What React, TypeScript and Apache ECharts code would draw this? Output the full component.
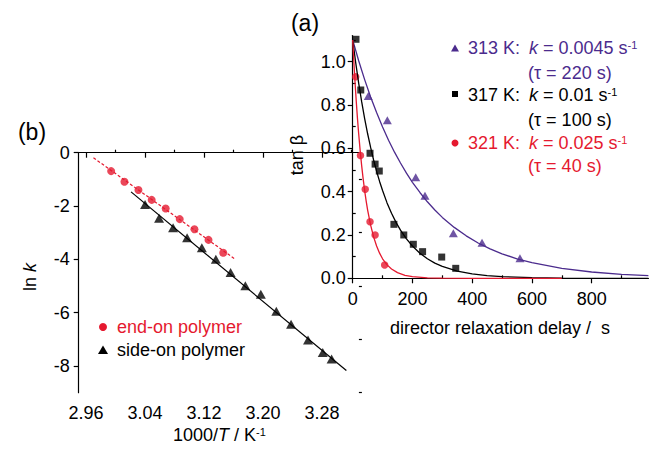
import React, { useEffect, useRef } from "react";
import * as echarts from "echarts";

// ---- Panel (b): Arrhenius plot ----
const endOnX = [2.994, 3.012, 3.031, 3.049, 3.068, 3.087, 3.107, 3.126, 3.146];
const endOnLnK = [-0.69, -1.09, -1.40, -1.77, -2.09, -2.49, -2.87, -3.27, -3.75];
const endOnFitX = [2.970, 3.163];
const endOnFitY = [-0.19, -4.01];
const sideOnX = [3.040, 3.059, 3.078, 3.097, 3.117, 3.136, 3.156, 3.176, 3.197, 3.218, 3.238, 3.261, 3.281, 3.293];
const sideOnLnK = [-1.94, -2.46, -2.81, -3.19, -3.56, -4.00, -4.49, -4.99, -5.31, -5.95, -6.43, -7.02, -7.49, -7.74];
const sideOnFitX = [3.021, 3.313];
const sideOnFitY = [-1.47, -8.17];
const bXTicks = [2.96, 3.04, 3.12, 3.20, 3.28];
const bXMinor = [3.00, 3.08, 3.16, 3.24, 3.32];
const bYTicks = [0, -2, -4, -6, -8];
const bYMinor = [-1, -3, -5, -7, -9];

// ---- Panel (a): relaxation ----
const t313 = [52, 116, 211, 242, 337, 433, 560];
const v313 = [0.841, 0.729, 0.466, 0.381, 0.208, 0.164, 0.092];
const t317 = [11, 27, 58, 75, 89, 138, 171, 203, 234, 298, 345];
const v317 = [1.103, 0.869, 0.577, 0.527, 0.495, 0.249, 0.2, 0.157, 0.123, 0.098, 0.046];
const t321 = [10, 26, 42, 58, 75, 107];
const v321 = [0.93, 0.567, 0.411, 0.261, 0.2, 0.061];

// fitted decay curves
const fitT313 = [0, 20, 40, 60, 80, 100, 120, 140, 160, 180, 200, 225, 250, 275, 300, 340, 380, 420, 460, 500, 550, 600, 700, 800, 900, 990];
const fitV313 = [1.1, 1.004, 0.917, 0.837, 0.765, 0.698, 0.637, 0.582, 0.532, 0.485, 0.443, 0.396, 0.353, 0.315, 0.281, 0.235, 0.196, 0.163, 0.136, 0.113, 0.09, 0.072, 0.046, 0.029, 0.018, 0.012];
const fitT317 = [0, 10, 20, 30, 40, 50, 60, 70, 80, 90, 100, 115, 130, 145, 160, 180, 200, 225, 250, 275, 300, 350, 400, 450, 500, 600, 700, 990];
const fitV317 = [1.1, 0.995, 0.901, 0.815, 0.737, 0.667, 0.604, 0.546, 0.494, 0.447, 0.405, 0.348, 0.3, 0.258, 0.222, 0.182, 0.149, 0.116, 0.09, 0.07, 0.055, 0.033, 0.02, 0.012, 0.0074, 0.0027, 0.001, 0];
const fitT321 = [0, 4, 8, 12, 16, 20, 25, 30, 35, 40, 45, 50, 60, 70, 80, 90, 100, 115, 130, 150, 175, 200, 250, 300, 400, 700];
const fitV321 = [1.1, 0.995, 0.901, 0.815, 0.737, 0.667, 0.589, 0.52, 0.459, 0.405, 0.357, 0.315, 0.245, 0.191, 0.149, 0.116, 0.09, 0.062, 0.043, 0.026, 0.014, 0.0074, 0.0021, 0.0006, 0, 0];
const aXTicks = [0, 200, 400, 600, 800];
const aXMinor = [100, 300, 500, 700, 900];
const aYTicks = [0, 0.2, 0.4, 0.6, 0.8, 1.0];
const aYMinor = [0.1, 0.3, 0.5, 0.7, 0.9, 1.1];

const RED = "#E5192F";
const PURPLE = "#4B2B8D";
const FONT = "'Liberation Sans', Arial, sans-serif";

const zip = (a: number[], b: number[]) => a.map((v, i) => [v, b[i]]);

function majorAxis(gridIndex: number, min: number, max: number, ticks: number[], digits: number, margin: number) {
  return {
    type: "value",
    gridIndex,
    min,
    max,
    axisLine: { show: true, lineStyle: { color: "#000", width: 1.2 } },
    axisTick: { show: true, length: 5, customValues: ticks, lineStyle: { color: "#000", width: 1.2 } },
    axisLabel: {
      show: true,
      customValues: ticks,
      margin,
      color: "#000",
      fontSize: 18,
      fontFamily: FONT,
      formatter: (v: number) => v.toFixed(digits),
    },
    splitLine: { show: false },
  };
}
function minorAxis(gridIndex: number, min: number, max: number, ticks: number[]) {
  return {
    type: "value",
    gridIndex,
    min,
    max,
    axisLine: { show: false },
    axisTick: { show: true, length: 3, customValues: ticks, lineStyle: { color: "#000", width: 1.2 } },
    axisLabel: { show: false },
    splitLine: { show: false },
  };
}

const txt = (x: number, y: number, rich: string, color: string, extra: any = {}) => ({
  type: "text",
  x,
  y,
  ...extra,
  style: {
    text: rich,
    fill: color,
    fontSize: 18,
    fontFamily: FONT,
    verticalAlign: "middle",
    align: extra.align || "left",
    rich: {
      n: { fontSize: 18, fontFamily: FONT, fill: color, lineHeight: 20 },
      i: { fontSize: 18, fontFamily: FONT, fill: color, fontStyle: "italic", lineHeight: 20 },
      s: { fontSize: 11, fontFamily: FONT, fill: color, lineHeight: 11, verticalAlign: "top", padding: [1, 0, 0, 0] },
    },
  },
});

export default function App() {
  const ref = useRef<HTMLDivElement>(null);
  useEffect(() => {
    if (!ref.current) return;
    const chart = echarts.init(ref.current, null, { renderer: "svg" });
    const option: any = {
      animation: false,
      backgroundColor: "#fff",
      grid: [
        { left: 78.7, top: 152.7, width: 280.2, height: 240, containLabel: false },
        { left: 352.7, top: 35.6, width: 295.7, height: 242.7, containLabel: false },
      ],
      xAxis: [
        majorAxis(0, 2.95, 3.33, bXTicks, 2, 11),
        minorAxis(0, 2.95, 3.33, bXMinor),
        majorAxis(1, 0, 990, aXTicks, 0, 12),
        minorAxis(1, 0, 990, aXMinor),
      ],
      yAxis: [
        majorAxis(0, -9, 0, bYTicks, 0, 9),
        minorAxis(0, -9, 0, bYMinor),
        majorAxis(1, 0, 1.12, aYTicks, 1, 7),
        minorAxis(1, 0, 1.12, aYMinor),
      ],
      series: [
        {
          type: "line", xAxisIndex: 0, yAxisIndex: 0, data: zip(endOnFitX, endOnFitY), symbol: "none",
          lineStyle: { color: RED, width: 1.2, type: [3, 2] }, silent: true,
        },
        {
          type: "line", xAxisIndex: 0, yAxisIndex: 0, data: zip(sideOnFitX, sideOnFitY), symbol: "none",
          lineStyle: { color: "#000", width: 1.2 }, silent: true,
        },
        {
          type: "scatter", xAxisIndex: 0, yAxisIndex: 0, data: zip(endOnX, endOnLnK), symbol: "circle", symbolSize: 8,
          itemStyle: { color: RED },
        },
        {
          type: "scatter", xAxisIndex: 0, yAxisIndex: 0, data: zip(sideOnX, sideOnLnK), symbol: "triangle", symbolSize: [10, 9],
          itemStyle: { color: "#000" },
        },
        {
          type: "line", xAxisIndex: 2, yAxisIndex: 2, data: zip(fitT313, fitV313), symbol: "none",
          lineStyle: { color: PURPLE, width: 1.3 },
        },
        {
          type: "line", xAxisIndex: 2, yAxisIndex: 2, data: zip(fitT317, fitV317), symbol: "none",
          lineStyle: { color: "#000", width: 1.3 },
        },
        {
          type: "line", xAxisIndex: 2, yAxisIndex: 2, data: zip(fitT321, fitV321), symbol: "none",
          lineStyle: { color: RED, width: 1.3 },
        },
        {
          type: "scatter", xAxisIndex: 2, yAxisIndex: 2, data: zip(t313, v313), symbol: "triangle", symbolSize: [9, 8],
          itemStyle: { color: PURPLE },
        },
        {
          type: "scatter", xAxisIndex: 2, yAxisIndex: 2, data: zip(t317, v317), symbol: "rect", symbolSize: 7,
          itemStyle: { color: "#000" },
        },
        {
          type: "scatter", xAxisIndex: 2, yAxisIndex: 2, data: zip(t321, v321), symbol: "circle", symbolSize: 7.5,
          itemStyle: { color: RED },
        },
      ],
      graphic: [
        { type: "text", x: 305, y: 23, style: { text: "(a)", fontSize: 23, fontFamily: FONT, fill: "#000", align: "center", verticalAlign: "middle" } },
        { type: "text", x: 32, y: 132, style: { text: "(b)", fontSize: 23, fontFamily: FONT, fill: "#000", align: "center", verticalAlign: "middle" } },
        txt(30, 277, "{n|ln }{i|k}", "#000", { rotation: Math.PI / 2, align: "center" }),
        txt(297, 155, "{n|tan β}", "#000", { rotation: Math.PI / 2, align: "center" }),
        txt(500, 328, "{n|director relaxation delay /  s}", "#000", { align: "center" }),
        txt(173, 435, "{n|1000/}{i|T}{n| / K}{s|-1}", "#000"),
        // legend (b)
        { type: "circle", shape: { cx: 103, cy: 327, r: 4 }, style: { fill: RED } },
        txt(117, 327, "{n|end-on polymer}", RED),
        { type: "polygon", shape: { points: [[103, 345.5], [108, 354], [98, 354]] }, style: { fill: "#000" } },
        txt(117, 350, "{n|side-on polymer}", "#000"),
        // legend (a)
        { type: "polygon", shape: { points: [[455, 44.5], [459, 51.5], [451, 51.5]] }, style: { fill: PURPLE } },
        txt(468, 48, "{n|313 K:}", PURPLE),
        txt(529, 48, "{i|k}{n| = 0.0045 s}{s|-1}", PURPLE),
        txt(528, 73, "{n|(τ = 220 s)}", PURPLE),
        { type: "rect", shape: { x: 452, y: 91, width: 6, height: 6 }, style: { fill: "#000" } },
        txt(468, 95, "{n|317 K:}", "#000"),
        txt(529, 95, "{i|k}{n| = 0.01 s}{s|-1}", "#000"),
        txt(528, 120, "{n|(τ = 100 s)}", "#000"),
        { type: "circle", shape: { cx: 455, cy: 143, r: 3.5 }, style: { fill: RED } },
        txt(468, 143, "{n|321 K:}", RED),
        txt(529, 143, "{i|k}{n| = 0.025 s}{s|-1}", RED),
        txt(528, 166, "{n|(τ = 40 s)}", RED),
      ],
    };
    chart.setOption(option);
    return () => chart.dispose();
  }, []);
  return (
    <div
      ref={ref}
      style={{ position: "fixed", left: 0, top: 0, width: 649, height: 454, background: "#fff" }}
    />
  );
}
